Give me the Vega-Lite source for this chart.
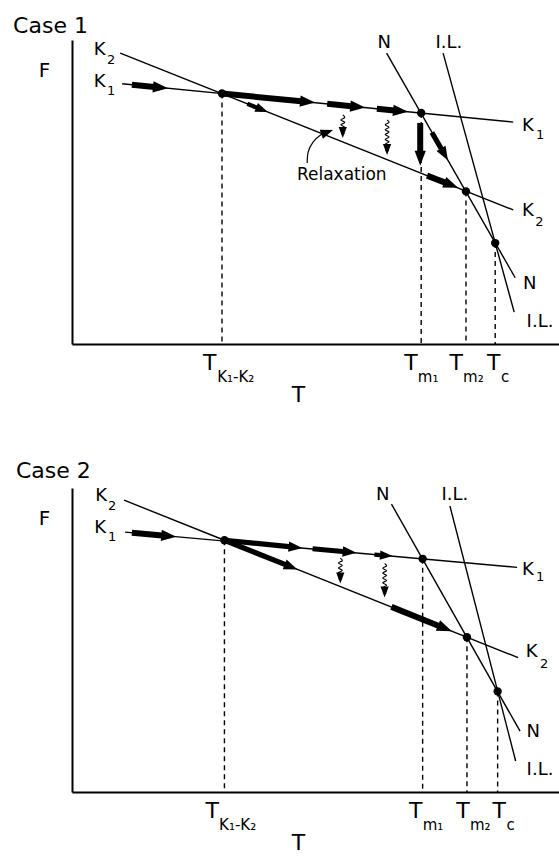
{
  "$schema": "https://vega.github.io/schema/vega-lite/v6.json",
  "padding": {"left": 13, "top": 15, "right": 0, "bottom": 0},
  "data": {"values": [
    {"c":"Case 1","k":"curve","id":"K1","o":0,"x":10.3,"y":85.6},
    {"c":"Case 1","k":"curve","id":"K1","o":1,"x":90.6,"y":73.0},
    {"c":"Case 1","k":"curve","id":"K2","o":0,"x":9.9,"y":95.7},
    {"c":"Case 1","k":"curve","id":"K2","o":1,"x":90.6,"y":44.1},
    {"c":"Case 1","k":"curve","id":"N","o":0,"x":64.6,"y":95.7},
    {"c":"Case 1","k":"curve","id":"N","o":1,"x":91.0,"y":21.8},
    {"c":"Case 1","k":"curve","id":"IL","o":0,"x":76.2,"y":95.7},
    {"c":"Case 1","k":"curve","id":"IL","o":1,"x":90.8,"y":10.5},
    {"c":"Case 1","k":"point","x":30.8,"y":82.4},
    {"c":"Case 1","k":"point","x":71.7,"y":76.0},
    {"c":"Case 1","k":"point","x":80.9,"y":50.2},
    {"c":"Case 1","k":"point","x":86.9,"y":33.2},
    {"c":"Case 1","k":"arrow","x":12.3,"y":85.3,"x2":19.7,"y2":84.1,"w":"bold"},
    {"c":"Case 1","k":"arrow","x":30.8,"y":82.4,"x2":49.9,"y2":79.4,"w":"bold"},
    {"c":"Case 1","k":"arrow","x":52.4,"y":79.0,"x2":60.2,"y2":77.8,"w":"bold"},
    {"c":"Case 1","k":"arrow","x":62.6,"y":77.4,"x2":69.0,"y2":76.4,"w":"bold"},
    {"c":"Case 1","k":"arrow","x":36.0,"y":79.0,"x2":40.2,"y2":76.3,"w":"light"},
    {"c":"Case 1","k":"arrow","x":71.5,"y":72.7,"x2":71.5,"y2":58.6,"w":"bold"},
    {"c":"Case 1","k":"arrow","x":73.9,"y":69.6,"x2":77.2,"y2":60.4,"w":"medium"},
    {"c":"Case 1","k":"arrow","x":72.9,"y":55.4,"x2":79.3,"y2":51.4,"w":"bold"},
    {"c":"Case 1","k":"arrow","x":55.6,"y":69.5,"x2":55.6,"y2":67.8,"w":"tiny"},
    {"c":"Case 1","k":"arrow","x":64.7,"y":63.9,"x2":64.7,"y2":62.2,"w":"tiny"},
    {"c":"Case 1","k":"arrow","x":52.4,"y":69.7,"x2":53.6,"y2":70.4,"w":"light"},
    {"c":"Case 1","k":"wave","id":"W1","o":0,"x":55.6,"y":75.3},
    {"c":"Case 1","k":"wave","id":"W1","o":1,"x":56.0,"y":74.5},
    {"c":"Case 1","k":"wave","id":"W1","o":2,"x":55.2,"y":73.7},
    {"c":"Case 1","k":"wave","id":"W1","o":3,"x":56.0,"y":72.9},
    {"c":"Case 1","k":"wave","id":"W1","o":4,"x":55.2,"y":72.1},
    {"c":"Case 1","k":"wave","id":"W1","o":5,"x":56.0,"y":71.3},
    {"c":"Case 1","k":"wave","id":"W1","o":6,"x":55.2,"y":70.5},
    {"c":"Case 1","k":"wave","id":"W1","o":7,"x":55.6,"y":69.5},
    {"c":"Case 1","k":"wave","id":"W2","o":0,"x":64.7,"y":73.7},
    {"c":"Case 1","k":"wave","id":"W2","o":1,"x":65.1,"y":72.9},
    {"c":"Case 1","k":"wave","id":"W2","o":2,"x":64.3,"y":72.1},
    {"c":"Case 1","k":"wave","id":"W2","o":3,"x":65.1,"y":71.3},
    {"c":"Case 1","k":"wave","id":"W2","o":4,"x":64.3,"y":70.5},
    {"c":"Case 1","k":"wave","id":"W2","o":5,"x":65.1,"y":69.7},
    {"c":"Case 1","k":"wave","id":"W2","o":6,"x":64.3,"y":68.9},
    {"c":"Case 1","k":"wave","id":"W2","o":7,"x":65.1,"y":68.1},
    {"c":"Case 1","k":"wave","id":"W2","o":8,"x":64.3,"y":67.3},
    {"c":"Case 1","k":"wave","id":"W2","o":9,"x":65.1,"y":66.5},
    {"c":"Case 1","k":"wave","id":"W2","o":10,"x":64.3,"y":65.7},
    {"c":"Case 1","k":"wave","id":"W2","o":11,"x":65.1,"y":64.9},
    {"c":"Case 1","k":"wave","id":"W2","o":12,"x":64.7,"y":63.9},
    {"c":"Case 1","k":"wave","id":"R","o":0,"x":48.3,"y":59.5},
    {"c":"Case 1","k":"wave","id":"R","o":1,"x":48.5,"y":63.2},
    {"c":"Case 1","k":"wave","id":"R","o":2,"x":49.5,"y":66.4},
    {"c":"Case 1","k":"wave","id":"R","o":3,"x":51.1,"y":68.8},
    {"c":"Case 1","k":"wave","id":"R","o":4,"x":52.4,"y":69.7},
    {"c":"Case 1","k":"title","x":-12.1,"y":102.3,"t":"Case 1"},
    {"c":"Case 1","k":"name","x":5.7,"y":96.7,"t":"K"},
    {"c":"Case 1","k":"name","x":5.7,"y":86.2,"t":"K"},
    {"c":"Case 1","k":"name","x":93.6,"y":71.7,"t":"K"},
    {"c":"Case 1","k":"name","x":93.6,"y":43.8,"t":"K"},
    {"c":"Case 1","k":"name","x":94.0,"y":19.7,"t":"N"},
    {"c":"Case 1","k":"name","x":96.1,"y":7.2,"t":"I.L."},
    {"c":"Case 1","k":"name","x":64.1,"y":99.0,"t":"N"},
    {"c":"Case 1","k":"name","x":77.4,"y":99.0,"t":"I.L."},
    {"c":"Case 1","k":"sub","x":7.2,"y":93.4,"t":"2"},
    {"c":"Case 1","k":"sub","x":7.2,"y":83.2,"t":"1"},
    {"c":"Case 1","k":"sub","x":95.3,"y":68.8,"t":"1"},
    {"c":"Case 1","k":"sub","x":95.1,"y":40.1,"t":"2"},
    {"c":"Case 1","k":"tick","x":28.3,"y":-8.6,"t":"T"},
    {"c":"Case 1","k":"tick","x":69.6,"y":-8.6,"t":"T"},
    {"c":"Case 1","k":"tick","x":78.9,"y":-8.6,"t":"T"},
    {"c":"Case 1","k":"tick","x":86.6,"y":-8.6,"t":"T"},
    {"c":"Case 1","k":"tsub","x":29.8,"y":-12.4,"t":"K₁-K₂"},
    {"c":"Case 1","k":"tsub","x":71.0,"y":-12.4,"t":"m₁"},
    {"c":"Case 1","k":"tsub","x":80.3,"y":-12.4,"t":"m₂"},
    {"c":"Case 1","k":"tsub","x":88.1,"y":-12.4,"t":"c"},
    {"c":"Case 1","k":"note","x":55.4,"y":55.6,"t":"Relaxation"},

    {"c":"Case 2","k":"curve","id":"K1","o":0,"x":10.9,"y":85.5},
    {"c":"Case 2","k":"curve","id":"K1","o":1,"x":91.4,"y":73.9},
    {"c":"Case 2","k":"curve","id":"K2","o":0,"x":10.7,"y":96.0},
    {"c":"Case 2","k":"curve","id":"K2","o":1,"x":91.6,"y":44.2},
    {"c":"Case 2","k":"curve","id":"N","o":0,"x":65.6,"y":94.7},
    {"c":"Case 2","k":"curve","id":"N","o":1,"x":92.0,"y":20.0},
    {"c":"Case 2","k":"curve","id":"IL","o":0,"x":77.6,"y":94.1},
    {"c":"Case 2","k":"curve","id":"IL","o":1,"x":91.1,"y":10.2},
    {"c":"Case 2","k":"point","x":31.3,"y":82.8},
    {"c":"Case 2","k":"point","x":72.0,"y":76.7},
    {"c":"Case 2","k":"point","x":81.1,"y":50.9},
    {"c":"Case 2","k":"point","x":87.4,"y":33.1},
    {"c":"Case 2","k":"arrow","x":12.3,"y":85.3,"x2":21.4,"y2":84.0,"w":"bold"},
    {"c":"Case 2","k":"arrow","x":31.3,"y":82.8,"x2":46.3,"y2":73.2,"w":"medium"},
    {"c":"Case 2","k":"arrow","x":31.3,"y":82.8,"x2":47.3,"y2":80.3,"w":"medium"},
    {"c":"Case 2","k":"arrow","x":49.4,"y":80.0,"x2":58.4,"y2":78.7,"w":"medium"},
    {"c":"Case 2","k":"arrow","x":62.1,"y":78.1,"x2":65.8,"y2":77.6,"w":"light"},
    {"c":"Case 2","k":"arrow","x":65.6,"y":60.9,"x2":78.0,"y2":52.9,"w":"bold"},
    {"c":"Case 2","k":"arrow","x":55.1,"y":70.3,"x2":55.1,"y2":68.6,"w":"tiny"},
    {"c":"Case 2","k":"arrow","x":64.2,"y":65.6,"x2":64.2,"y2":64.0,"w":"tiny"},
    {"c":"Case 2","k":"wave","id":"W1","o":0,"x":55.1,"y":76.9},
    {"c":"Case 2","k":"wave","id":"W1","o":1,"x":55.5,"y":76.1},
    {"c":"Case 2","k":"wave","id":"W1","o":2,"x":54.7,"y":75.3},
    {"c":"Case 2","k":"wave","id":"W1","o":3,"x":55.5,"y":74.5},
    {"c":"Case 2","k":"wave","id":"W1","o":4,"x":54.7,"y":73.7},
    {"c":"Case 2","k":"wave","id":"W1","o":5,"x":55.5,"y":72.9},
    {"c":"Case 2","k":"wave","id":"W1","o":6,"x":54.7,"y":72.1},
    {"c":"Case 2","k":"wave","id":"W1","o":7,"x":55.5,"y":71.3},
    {"c":"Case 2","k":"wave","id":"W1","o":8,"x":55.1,"y":70.3},
    {"c":"Case 2","k":"wave","id":"W2","o":0,"x":64.2,"y":75.2},
    {"c":"Case 2","k":"wave","id":"W2","o":1,"x":64.6,"y":74.4},
    {"c":"Case 2","k":"wave","id":"W2","o":2,"x":63.8,"y":73.6},
    {"c":"Case 2","k":"wave","id":"W2","o":3,"x":64.6,"y":72.8},
    {"c":"Case 2","k":"wave","id":"W2","o":4,"x":63.8,"y":72.0},
    {"c":"Case 2","k":"wave","id":"W2","o":5,"x":64.6,"y":71.2},
    {"c":"Case 2","k":"wave","id":"W2","o":6,"x":63.8,"y":70.4},
    {"c":"Case 2","k":"wave","id":"W2","o":7,"x":64.6,"y":69.6},
    {"c":"Case 2","k":"wave","id":"W2","o":8,"x":63.8,"y":68.8},
    {"c":"Case 2","k":"wave","id":"W2","o":9,"x":64.6,"y":68.0},
    {"c":"Case 2","k":"wave","id":"W2","o":10,"x":63.8,"y":67.2},
    {"c":"Case 2","k":"wave","id":"W2","o":11,"x":64.6,"y":66.4},
    {"c":"Case 2","k":"wave","id":"W2","o":12,"x":64.2,"y":65.6},
    {"c":"Case 2","k":"title","x":-11.5,"y":103.3,"t":"Case 2"},
    {"c":"Case 2","k":"name","x":6.0,"y":97.4,"t":"K"},
    {"c":"Case 2","k":"name","x":5.8,"y":86.8,"t":"K"},
    {"c":"Case 2","k":"name","x":93.6,"y":72.9,"t":"K"},
    {"c":"Case 2","k":"name","x":94.4,"y":45.9,"t":"K"},
    {"c":"Case 2","k":"name","x":94.7,"y":19.8,"t":"N"},
    {"c":"Case 2","k":"name","x":96.1,"y":7.3,"t":"I.L."},
    {"c":"Case 2","k":"name","x":63.8,"y":97.7,"t":"N"},
    {"c":"Case 2","k":"name","x":78.6,"y":97.7,"t":"I.L."},
    {"c":"Case 2","k":"sub","x":7.4,"y":94.1,"t":"2"},
    {"c":"Case 2","k":"sub","x":7.4,"y":83.8,"t":"1"},
    {"c":"Case 2","k":"sub","x":95.3,"y":70.6,"t":"1"},
    {"c":"Case 2","k":"sub","x":96.1,"y":42.2,"t":"2"},
    {"c":"Case 2","k":"tick","x":28.8,"y":-8.6,"t":"T"},
    {"c":"Case 2","k":"tick","x":70.6,"y":-8.6,"t":"T"},
    {"c":"Case 2","k":"tick","x":80.3,"y":-8.6,"t":"T"},
    {"c":"Case 2","k":"tick","x":87.7,"y":-8.6,"t":"T"},
    {"c":"Case 2","k":"tsub","x":30.2,"y":-12.4,"t":"K₁-K₂"},
    {"c":"Case 2","k":"tsub","x":72.0,"y":-12.4,"t":"m₁"},
    {"c":"Case 2","k":"tsub","x":81.7,"y":-12.4,"t":"m₂"},
    {"c":"Case 2","k":"tsub","x":89.2,"y":-12.4,"t":"c"}
  ]},
  "facet": {"row": {"field": "c", "type": "nominal", "title": null, "header": {"labels": false, "title": null}}},
  "spacing": {"row": 144},
  "bounds": "flush",
  "resolve": {"axis": {"x": "independent", "y": "independent"}},
  "spec": {
    "width": 487,
    "height": 304,
    "encoding": {
      "x": {"field": "x", "type": "quantitative", "scale": {"domain": [0, 100], "nice": false, "zero": false},
            "axis": {"title": "T", "titleX": 226, "titleY": 57, "titleAlign": "center", "titleBaseline": "alphabetic", "titleFontSize": 22}},
      "y": {"field": "y", "type": "quantitative", "scale": {"domain": [0, 100], "nice": false, "zero": false},
            "axis": {"title": "F", "titleAngle": 0, "titleX": -28, "titleY": 36, "titleAlign": "center", "titleBaseline": "alphabetic", "titleFontSize": 20}}
    },
    "layer": [
      {"transform": [{"filter": "datum.k === 'point'"}],
       "mark": {"type": "rule", "strokeDash": [5, 4], "strokeWidth": 1.4, "color": "black"},
       "encoding": {"y2": {"datum": 0}}},
      {"transform": [{"filter": "datum.k === 'curve'"}],
       "mark": {"type": "line", "strokeWidth": 1.4, "color": "black"},
       "encoding": {"detail": {"field": "id"}, "order": {"field": "o"}}},
      {"transform": [{"filter": "datum.k === 'wave'"}],
       "mark": {"type": "line", "strokeWidth": 1.2, "color": "black", "interpolate": "cardinal"},
       "encoding": {"detail": {"field": "id"}, "order": {"field": "o"}}},
      {"transform": [
         {"filter": "datum.k === 'arrow'"},
         {"calculate": "(datum.x2-datum.x)*4.87", "as": "dxp"},
         {"calculate": "(datum.y-datum.y2)*3.04", "as": "dyp"},
         {"calculate": "sqrt(datum.dxp*datum.dxp+datum.dyp*datum.dyp)", "as": "len"},
         {"calculate": "datum.w==='bold'?15:datum.w==='medium'?11:datum.w==='light'?8:5", "as": "hl"},
         {"calculate": "datum.x2-0.75*datum.hl*datum.dxp/datum.len/4.87", "as": "xs"},
         {"calculate": "datum.y2+0.75*datum.hl*datum.dyp/datum.len/3.04", "as": "ys"}
       ],
       "mark": {"type": "rule", "color": "black", "strokeCap": "butt"},
       "encoding": {
         "x2": {"field": "xs"},
         "y2": {"field": "ys"},
         "strokeWidth": {"field": "w", "type": "ordinal", "scale": {"domain": ["bold", "medium", "light", "tiny"], "range": [6, 3.5, 1.5, 1.2]}, "legend": null}
       }},
      {"transform": [
         {"filter": "datum.k === 'arrow'"},
         {"calculate": "atan2((datum.y-datum.y2)*3.04,(datum.x2-datum.x)*4.87)*180/PI", "as": "ang"}
       ],
       "mark": {"type": "point", "shape": "M0,0L-2,-0.75L-2,0.75Z", "filled": true, "opacity": 1, "color": "black", "strokeWidth": 0},
       "encoding": {
         "x": {"field": "x2", "type": "quantitative", "title": "T"},
         "y": {"field": "y2", "type": "quantitative", "title": "F"},
         "angle": {"field": "ang", "type": "quantitative", "scale": null},
         "size": {"field": "w", "type": "ordinal", "scale": {"domain": ["bold", "medium", "light", "tiny"], "range": [225, 121, 64, 25]}, "legend": null}
       }},
      {"transform": [{"filter": "datum.k === 'point'"}],
       "mark": {"type": "point", "shape": "circle", "filled": true, "opacity": 1, "color": "black", "size": 70}},
      {"transform": [{"filter": "datum.k === 'title'"}],
       "mark": {"type": "text", "fontSize": 22, "align": "left", "baseline": "alphabetic"},
       "encoding": {"text": {"field": "t"}}},
      {"transform": [{"filter": "datum.k === 'name'"}],
       "mark": {"type": "text", "fontSize": 18, "align": "center", "baseline": "middle"},
       "encoding": {"text": {"field": "t"}}},
      {"transform": [{"filter": "datum.k === 'sub'"}],
       "mark": {"type": "text", "fontSize": 13, "align": "left", "baseline": "middle"},
       "encoding": {"text": {"field": "t"}}},
      {"transform": [{"filter": "datum.k === 'tick'"}],
       "mark": {"type": "text", "fontSize": 22, "align": "center", "baseline": "alphabetic"},
       "encoding": {"text": {"field": "t"}}},
      {"transform": [{"filter": "datum.k === 'tsub'"}],
       "mark": {"type": "text", "fontSize": 15, "align": "left", "baseline": "alphabetic"},
       "encoding": {"text": {"field": "t"}}},
      {"transform": [{"filter": "datum.k === 'note'"}],
       "mark": {"type": "text", "fontSize": 17, "align": "center", "baseline": "middle"},
       "encoding": {"text": {"field": "t"}}}
    ]
  },
  "config": {
    "view": {"stroke": null},
    "text": {"font": "DejaVu Sans", "color": "black"},
    "axis": {"domainColor": "black", "domainWidth": 2, "ticks": false, "labels": false, "grid": false,
             "titleFont": "DejaVu Sans", "titleFontWeight": "normal", "titleColor": "black"}
  }
}
